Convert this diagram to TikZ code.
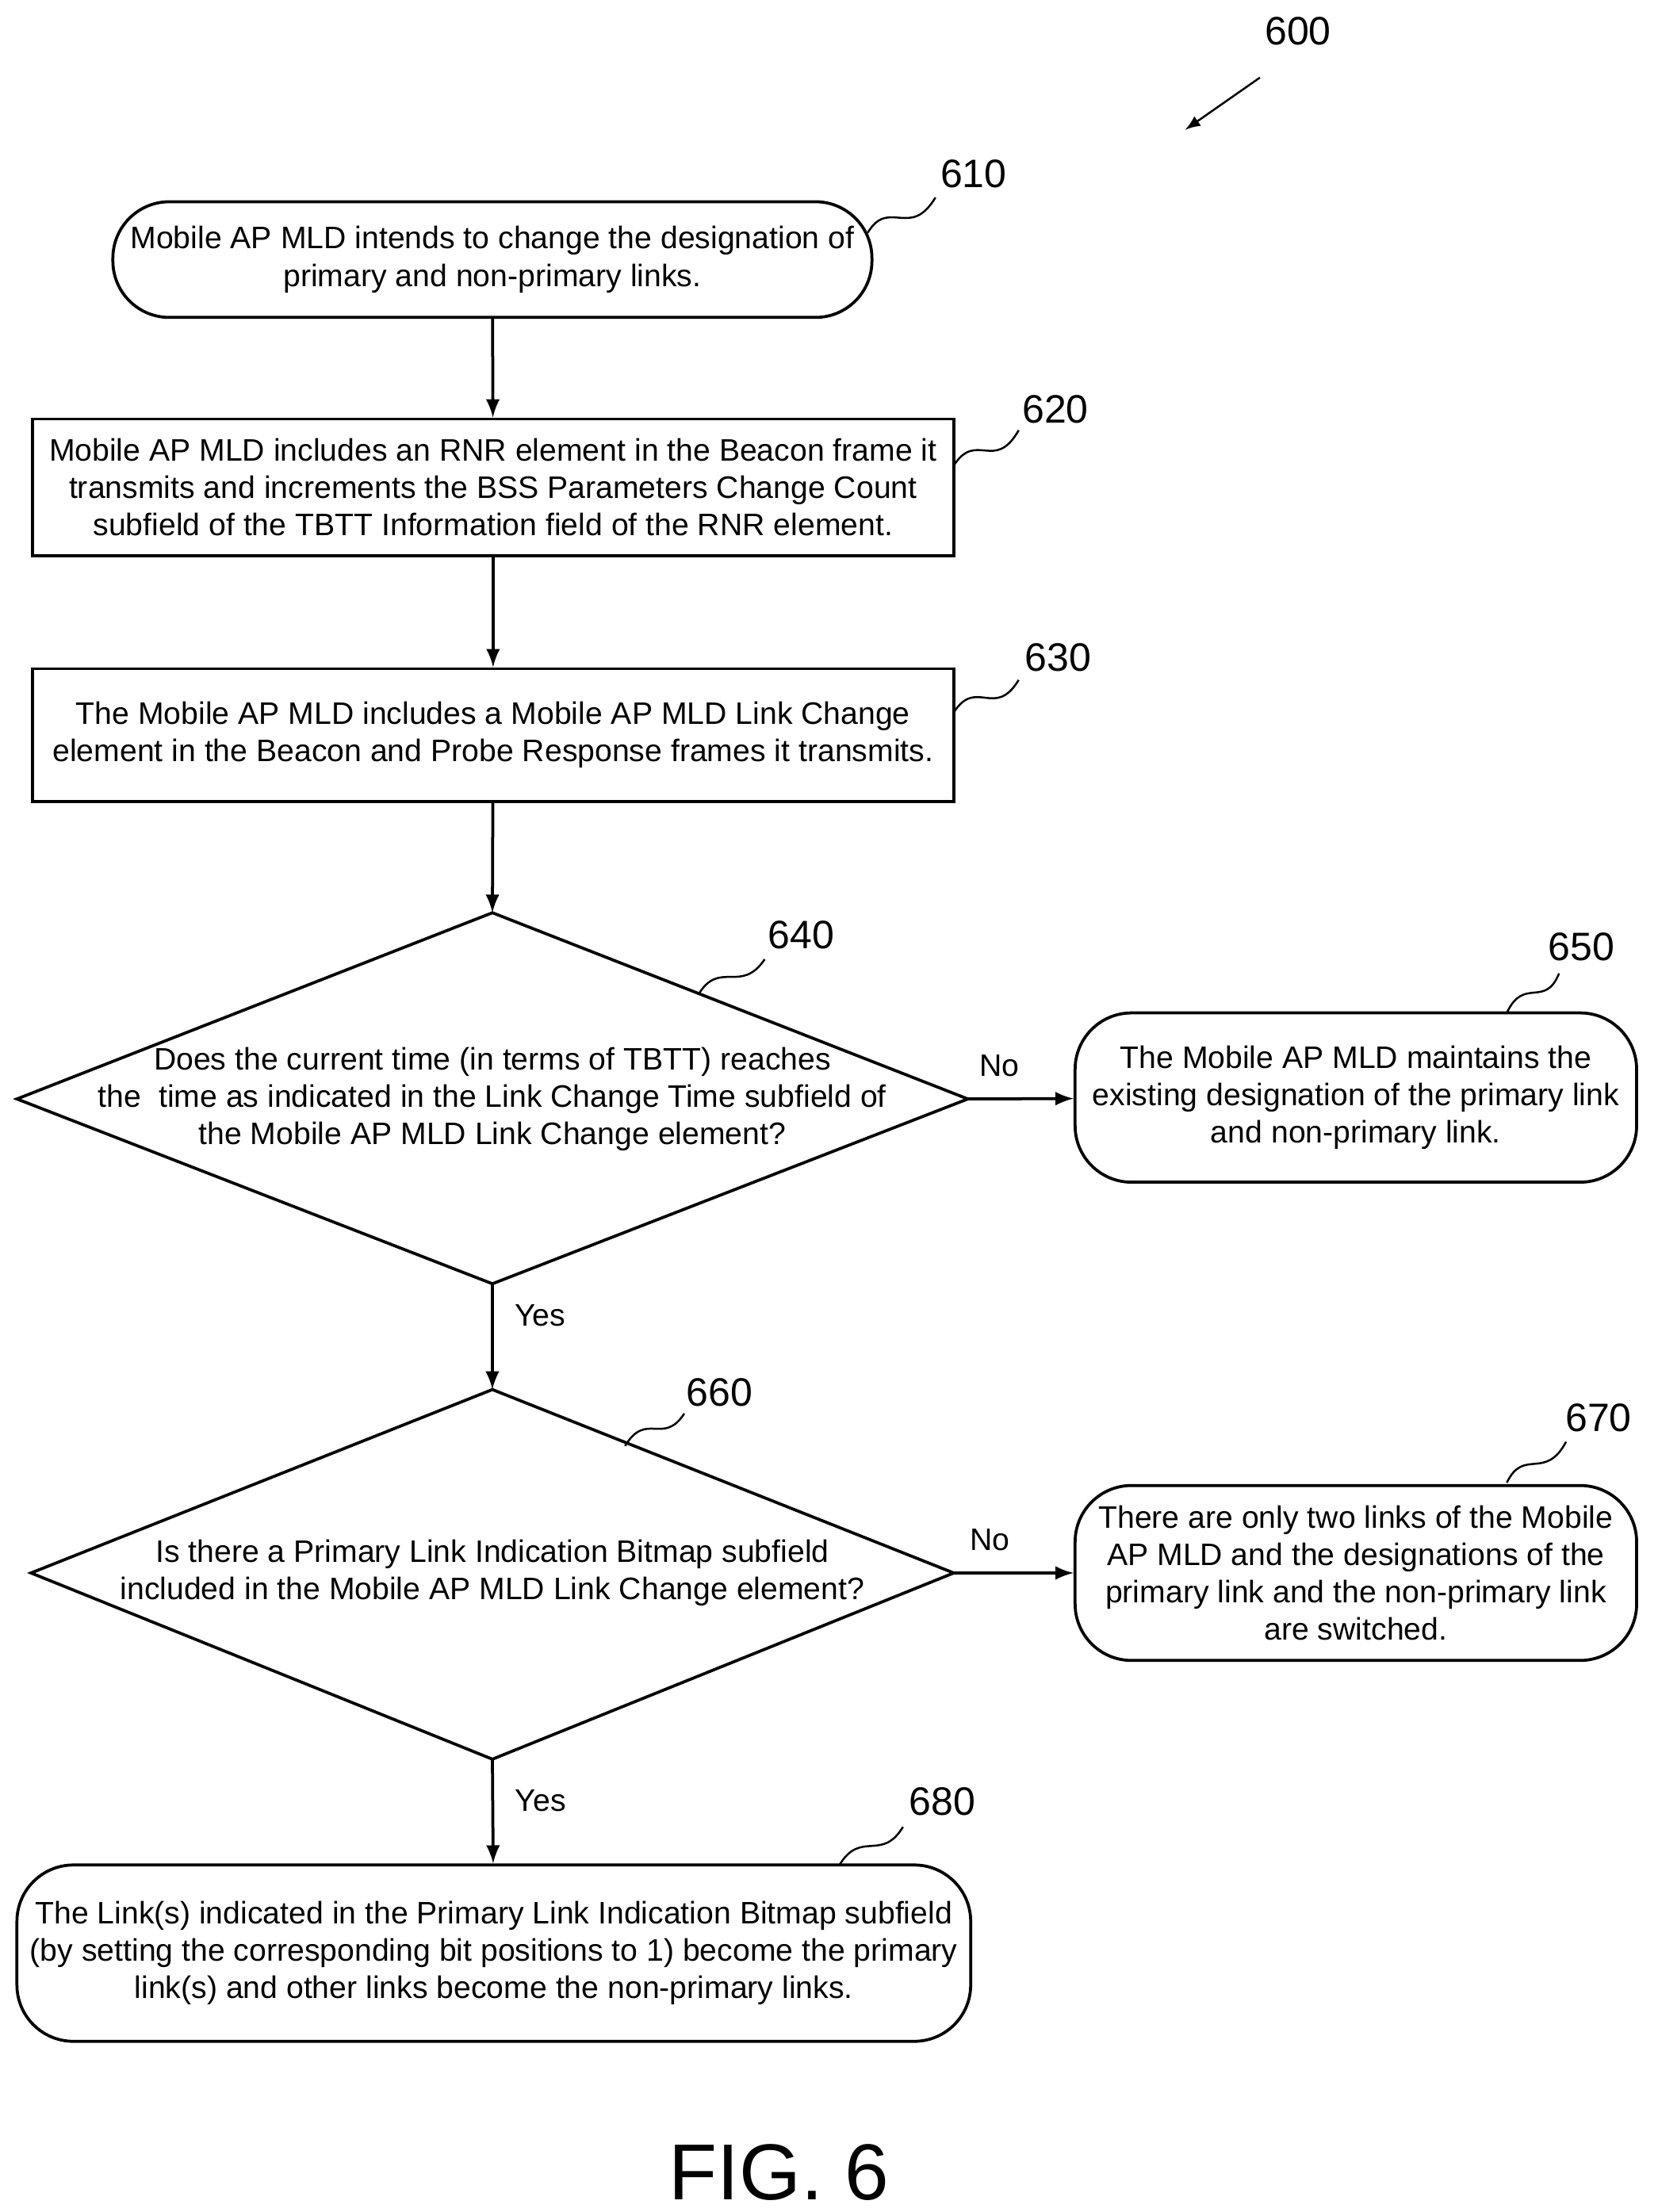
\documentclass[tikz,border=0pt]{standalone}
\usepackage{fontspec}
\setmainfont{Liberation Sans}
\usetikzlibrary{positioning}
\tikzset{
  proc/.style   = {draw, line width=0.9pt, rectangle, align=center, inner sep=0pt},
  term/.style   = {proc, rounded corners=0.6cm},
  txt/.style    = {align=center, font=\fontsize{9.4}{11.3}\selectfont},
  refnum/.style = {font=\fontsize{12}{14}\selectfont},
  flow/.style   = {draw, line width=0.9pt, -latex},
  lead/.style   = {draw, line width=0.6pt}
}
\begin{document}
\begin{tikzpicture}[x=0.015cm, y=-0.015cm]
  \useasboundingbox (0,0) rectangle (1175,1568);
  % boxes
  \node [term, minimum width=538*0.015cm, minimum height=82*0.015cm] (s610) at (349,184) {};
  \node [txt] at (s610) {Mobile AP MLD intends to change the designation of\\primary and non-primary links.};
  \node [proc, minimum width=653*0.015cm, minimum height=97*0.015cm] (s620) at (349.5,345.5) {};
  \node [txt] at (s620) {Mobile AP MLD includes an RNR element in the Beacon frame it\\transmits and increments the BSS Parameters Change Count\\subfield of the TBTT Information field of the RNR element.};
  \node [proc, minimum width=653*0.015cm, minimum height=94*0.015cm] (s630) at (349.5,521) {};
  \node [txt] at (s630) {The Mobile AP MLD includes a Mobile AP MLD Link Change\\element in the Beacon and Probe Response frames it transmits.};
  % decision 640
  \coordinate (d640t) at (349,647);
  \coordinate (d640b) at (349,910);
  \coordinate (d640r) at (686,779);
  \draw [line width=0.9pt] (d640t) -- (d640r) -- (d640b) -- (12,779) -- cycle;
  \node [txt] (s640) at (349,779) {Does the current time (in terms of TBTT) reaches\\the\ \ time as indicated in the Link Change Time subfield of\\the Mobile AP MLD Link Change element?};
  \node [term, minimum width=398*0.015cm, minimum height=120*0.015cm] (s650) at (961,778) {};
  \node [txt] at (s650) {The Mobile AP MLD maintains the\\existing designation of the primary link\\and non-primary link.};
  % decision 660
  \coordinate (d660t) at (349,985);
  \coordinate (d660b) at (349,1247);
  \coordinate (d660r) at (676,1115);
  \draw [line width=0.9pt] (d660t) -- (d660r) -- (d660b) -- (22,1115) -- cycle;
  \node [txt] (s660) at (349,1115) {Is there a Primary Link Indication Bitmap subfield\\included in the Mobile AP MLD Link Change element?};
  \node [term, minimum width=398*0.015cm, minimum height=124*0.015cm] (s670) at (961,1115) {};
  \node [txt] at (s670) {There are only two links of the Mobile\\AP MLD and the designations of the\\primary link and the non-primary link\\are switched.};
  \node [term, minimum width=676*0.015cm, minimum height=125*0.015cm] (s680) at (350,1384.5) {};
  \node [txt] at (s680) {The Link(s) indicated in the Primary Link Indication Bitmap subfield\\(by setting the corresponding bit positions to 1) become the primary\\link(s) and other links become the non-primary links.};
  % connectors
  \draw [flow] (s610) -- (s620);
  \draw [flow] (s620) -- (s630);
  \draw [flow] (s630) -- (d640t);
  \draw [flow] (d640r) -- (s650) node [txt, pos=0.3, above=3pt] {No};
  \draw [flow] (d640b) -- (d660t) node [txt, pos=0.3, right=3pt] {Yes};
  \draw [flow] (d660r) -- (s670) node [txt, pos=0.3, above=3pt] {No};
  \draw [flow] (d660b) -- (s680) node [txt, pos=0.4, right=3pt] {Yes};
  % reference numerals
  \node [refnum] (n600) at (920,22) {600};
  \node [refnum] (n610) at (690,123) {610};
  \node [refnum] (n620) at (748,290) {620};
  \node [refnum] (n630) at (750,466) {630};
  \node [refnum] (n640) at (568,663) {640};
  \node [refnum] (n650) at (1121,671) {650};
  \node [refnum] (n660) at (510,987) {660};
  \node [refnum] (n670) at (1133,1005) {670};
  \node [refnum] (n680) at (668,1277) {680};
  \draw [lead, -latex] (893,55) -- (840,92);
  \draw [lead] (615,165) .. controls (630,140) and (645,170) .. (663,140);
  \draw [lead] (676,330) .. controls (692,305) and (705,335) .. (722,305);
  \draw [lead] (676,505) .. controls (692,480) and (705,510) .. (722,482);
  \draw [lead] (495,705) .. controls (510,680) and (525,705) .. (542,680);
  \draw [lead] (1068,718) .. controls (1080,692) and (1095,715) .. (1105,690);
  \draw [lead] (443,1025) .. controls (458,1000) and (470,1025) .. (485,1002);
  \draw [lead] (1068,1051) .. controls (1080,1026) and (1095,1050) .. (1110,1022);
  \draw [lead] (595,1322) .. controls (610,1297) and (625,1320) .. (640,1295);
  \node [font=\fontsize{24}{28}\selectfont] (fig) at (552,1540) {FIG. 6};
\end{tikzpicture}
\end{document}
